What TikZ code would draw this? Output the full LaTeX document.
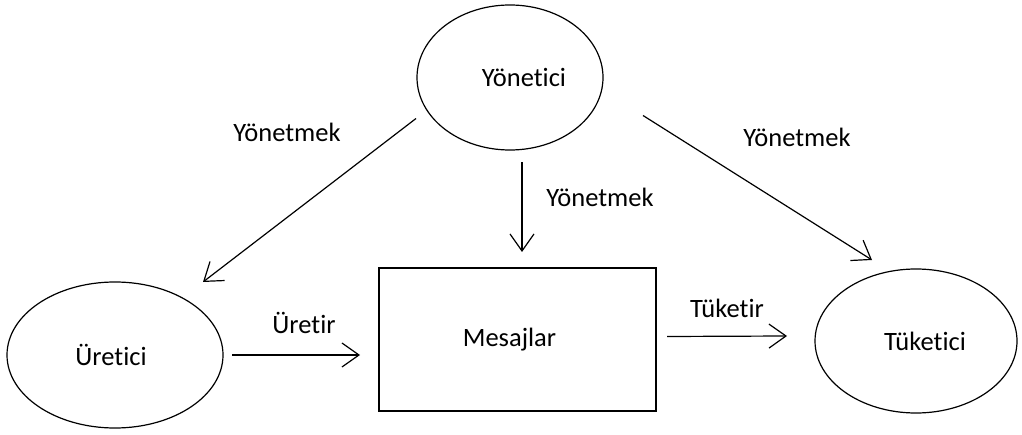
\documentclass[tikz,border=0pt]{standalone}
\usepackage{fontspec}
\setmainfont[Ligatures=NoCommon]{Carlito}
\usetikzlibrary{shapes.geometric,arrows.meta}
\begin{document}
\begin{tikzpicture}[x=1pt,y=1pt,
  every node/.style={font=\fontsize{26.5}{30}\selectfont},
  actor/.style={draw, ellipse, line width=1.2pt, inner sep=0pt},
  store/.style={draw, rectangle, line width=1.4pt, inner sep=0pt},
  flow/.style={line width=1.2pt, -{Straight Barb[length=17pt,width=24pt,line width=1.2pt]}},
  lbl/.style={inner sep=0pt}]
\useasboundingbox (0,0) rectangle (1022,434);

% shapes (text set a little off-centre, as drawn)
\node[actor, minimum width=186pt, minimum height=145pt] (yon) at (510,356.5) {\hspace*{28pt}Yönetici};
\node[actor, minimum width=216pt, minimum height=146pt] (ure) at (115,79) {Üretici\hspace*{8pt}};
\node[store, minimum width=277pt, minimum height=143pt] (mes) at (517.5,94.5) {Mesajlar\hspace*{16pt}};
\node[actor, minimum width=202pt, minimum height=144pt] (tuk) at (916,93) {\hspace*{18pt}Tüketici};

% connectors
\draw[flow] ([xshift=-94pt,yshift=-41pt]yon.center) -- ([xshift=88pt,yshift=73pt]ure.center);
\draw[flow] ([xshift=12pt,yshift=-85pt]yon.center) -- ([xshift=4.5pt,yshift=87.5pt]mes.center);
\draw[flow] ([xshift=133pt,yshift=-38pt]yon.center) -- ([xshift=-44pt,yshift=81pt]tuk.center);
\draw[flow] ([xshift=117pt,yshift=0pt]ure.center) -- ([xshift=-157.5pt,yshift=-15.5pt]mes.center);
\draw[flow] ([xshift=149.5pt,yshift=3pt]mes.center) -- ([xshift=-129pt,yshift=5pt]tuk.center);

% connector labels
\node[lbl] (l1) at (287,302) {Yönetmek};
\node[lbl] (l2) at (600,237) {Yönetmek};
\node[lbl] (l3) at (797,297) {Yönetmek};
\node[lbl] (l4) at (304,111) {Üretir};
\node[lbl] (l5) at (727,126) {Tüketir};
\end{tikzpicture}
\end{document}
